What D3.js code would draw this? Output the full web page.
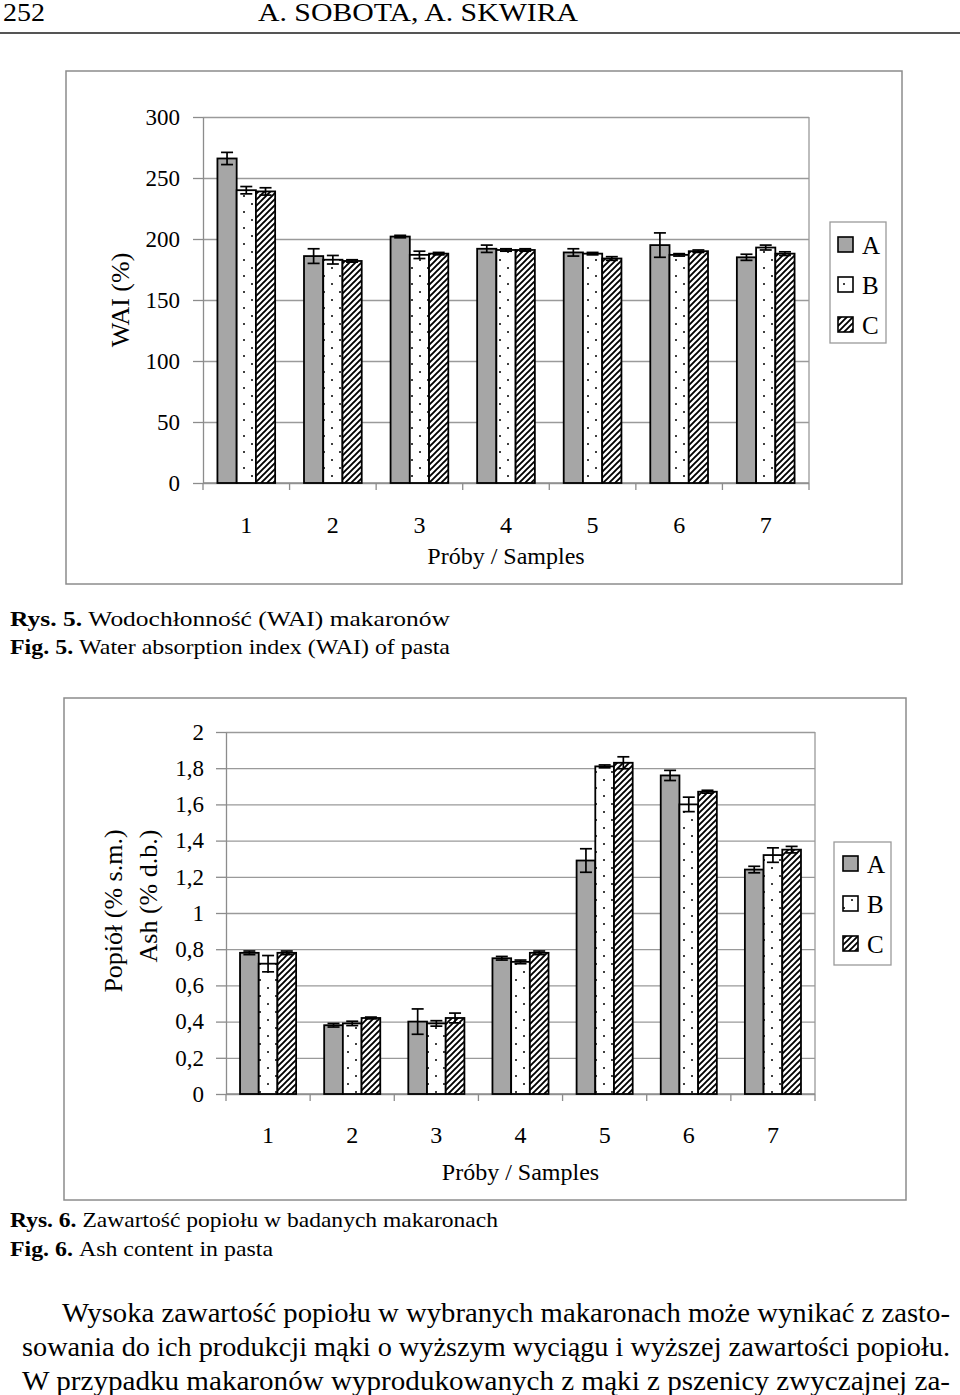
<!DOCTYPE html>
<html>
<head>
<meta charset="utf-8">
<script src="https://cdn.jsdelivr.net/npm/d3@7"></script>
<style>
html,body{margin:0;padding:0;background:#fff;}
svg{display:block;}
text{font-family:"Liberation Serif","Times New Roman",serif;fill:#000;}
</style>
</head>
<body>
<svg id="page" width="960" height="1395"></svg>
<script>
// ---------- DATA ----------
const samples = ["1","2","3","4","5","6","7"];
const series = ["A","B","C"];

// Fig. 5 – WAI (%)
const waiA = [266,186,202,192,189,195,185];
const waiB = [240,183,187,191,188,187,193];
const waiC = [239,182,188,191,184,190,188];
const waiErrA = [5,6,1,3,3,10,2.5];
const waiErrB = [3,3.5,3,1,1,1,2];
const waiErrC = [3,1,1,1,1.5,1,1.5];
const waiTicks = [0,50,100,150,200,250,300];

// Fig. 6 – Ash (% d.b.)
const ashA = [0.78,0.38,0.40,0.75,1.29,1.76,1.24];
const ashB = [0.72,0.39,0.39,0.73,1.81,1.60,1.32];
const ashC = [0.78,0.42,0.42,0.78,1.83,1.67,1.35];
const ashErrA = [0.01,0.01,0.07,0.01,0.065,0.028,0.018];
const ashErrB = [0.045,0.012,0.015,0.01,0.008,0.04,0.04];
const ashErrC = [0.01,0.005,0.027,0.01,0.033,0.008,0.018];
const ashTicks = [0,0.2,0.4,0.6,0.8,1,1.2,1.4,1.6,1.8,2];
const ashTickLabels = ["0","0,2","0,4","0,6","0,8","1","1,2","1,4","1,6","1,8","2"];

// ---------- PAGE ----------
const svg = d3.select("#page");
const FONT = 23;
const SERIF = '"Liberation Serif","Times New Roman",serif';

// patterns
const defs = svg.append("defs");
const dots = defs.append("pattern").attr("id","dots").attr("patternUnits","userSpaceOnUse")
  .attr("width",16).attr("height",16);
dots.append("rect").attr("width",16).attr("height",16).attr("fill","#fff");
dots.append("circle").attr("cx",4).attr("cy",4).attr("r",1).attr("fill","#000");
dots.append("circle").attr("cx",12).attr("cy",12).attr("r",1).attr("fill","#000");
const hatch = defs.append("pattern").attr("id","hatch").attr("patternUnits","userSpaceOnUse")
  .attr("width",6).attr("height",6);
hatch.append("rect").attr("width",6).attr("height",6).attr("fill","#fff");
hatch.append("path").attr("d","M0,6 L6,0 M-1.5,1.5 L1.5,-1.5 M4.5,7.5 L7.5,4.5")
  .attr("stroke","#000").attr("stroke-width",1.9);

const fills = {A:"#a6a6a6", B:"url(#dots)", C:"url(#hatch)"};

// header
svg.append("text").attr("x",3).attr("y",21).attr("font-size",25)
  .attr("textLength",42).attr("lengthAdjust","spacingAndGlyphs").text("252");
svg.append("text").attr("x",258).attr("y",21).attr("font-size",25)
  .attr("textLength",320).attr("lengthAdjust","spacingAndGlyphs").text("A. SOBOTA, A. SKWIRA");
svg.append("line").attr("x1",0).attr("x2",960).attr("y1",33).attr("y2",33)
  .attr("stroke","#555").attr("stroke-width",2);

function drawChart(cfg){
  const g = svg.append("g");
  // outer frame
  g.append("rect").attr("x",cfg.box[0]).attr("y",cfg.box[1])
    .attr("width",cfg.box[2]-cfg.box[0]).attr("height",cfg.box[3]-cfg.box[1])
    .attr("fill","none").attr("stroke","#8c8c8c").attr("stroke-width",1.5);

  const x = d3.scaleBand().domain(samples).range([cfg.px0,cfg.px1])
    .paddingInner(1/3).paddingOuter(1/6);
  const xs = d3.scaleBand().domain(series).range([0,x.bandwidth()]);
  const y = d3.scaleLinear().domain(cfg.domain).range([cfg.py1,cfg.py0]);

  // grid
  g.append("g").attr("transform",`translate(${cfg.px0},0)`)
    .call(d3.axisLeft(y).tickValues(cfg.ticks).tickSize(-(cfg.px1-cfg.px0)).tickFormat(""))
    .call(a=>a.select(".domain").remove())
    .call(a=>a.selectAll("line").attr("stroke","#9a9a9a").attr("stroke-width",1.3));
  // plot border right
  g.append("line").attr("x1",cfg.px1).attr("x2",cfg.px1).attr("y1",cfg.py0).attr("y2",cfg.py1)
    .attr("stroke","#9a9a9a").attr("stroke-width",1.3);

  // y axis
  g.append("g").attr("transform",`translate(${cfg.px0},0)`)
    .call(d3.axisLeft(y).tickValues(cfg.ticks).tickSize(10).tickSizeOuter(0).tickPadding(cfg.pad)
      .tickFormat((d,i)=>cfg.tickLabels[i]))
    .call(a=>a.selectAll("line,path").attr("stroke","#8c8c8c").attr("stroke-width",1.3))
    .call(a=>a.selectAll("text").attr("font-size",FONT).attr("font-family",SERIF).attr("fill","#000"));

  // x axis line + boundary ticks
  g.append("line").attr("x1",cfg.px0).attr("x2",cfg.px1).attr("y1",cfg.py1).attr("y2",cfg.py1)
    .attr("stroke","#8c8c8c").attr("stroke-width",1.3);
  g.selectAll(".xt").data(d3.range(samples.length+1)).join("line")
    .attr("x1",i=>cfg.px0+i*x.step()).attr("x2",i=>cfg.px0+i*x.step())
    .attr("y1",cfg.py1).attr("y2",cfg.py1+7).attr("stroke","#8c8c8c").attr("stroke-width",1.3);
  // x labels
  g.append("g").attr("transform",`translate(0,${cfg.py1})`)
    .call(d3.axisBottom(x).tickSize(0).tickPadding(cfg.xpad))
    .call(a=>a.select(".domain").remove())
    .call(a=>a.selectAll("text").attr("font-size",FONT+1).attr("font-family",SERIF).attr("fill","#000"));

  // bars
  const rows = [];
  samples.forEach((s,i)=>series.forEach(k=>{
    rows.push({s,k,v:cfg.vals[k][i],e:cfg.errs[k][i]});
  }));
  const bars = g.append("g");
  bars.selectAll("rect").data(rows).join("rect")
    .attr("x",d=>x(d.s)+xs(d.k)).attr("width",xs.bandwidth())
    .attr("y",d=>y(d.v)).attr("height",d=>y(0)-y(d.v))
    .attr("fill",d=>fills[d.k]).attr("stroke","#000").attr("stroke-width",1.8);
  const eb = g.append("g").attr("stroke","#000").attr("stroke-width",1.7);
  rows.forEach(d=>{
    const cx = x(d.s)+xs(d.k)+xs.bandwidth()/2;
    eb.append("line").attr("x1",cx).attr("x2",cx).attr("y1",y(d.v+d.e)).attr("y2",y(d.v-d.e));
    eb.append("line").attr("x1",cx-6).attr("x2",cx+6).attr("y1",y(d.v+d.e)).attr("y2",y(d.v+d.e));
    eb.append("line").attr("x1",cx-6).attr("x2",cx+6).attr("y1",y(d.v-d.e)).attr("y2",y(d.v-d.e));
  });

  // x title
  g.append("text").attr("x",(cfg.px0+cfg.px1)/2).attr("y",cfg.xtitleY).attr("text-anchor","middle")
    .attr("font-size",FONT+1).text("Próby / Samples");
  // y titles
  cfg.ytitles.forEach(t=>{
    g.append("text").attr("transform",`translate(${t.x},${t.y}) rotate(-90)`)
      .attr("text-anchor","middle").attr("font-size",26).text(t.text);
  });

  // legend
  const L = cfg.legend;
  g.append("rect").attr("x",L.x0).attr("y",L.y0).attr("width",L.x1-L.x0).attr("height",L.y1-L.y0)
    .attr("fill","#fff").attr("stroke","#9a9a9a").attr("stroke-width",1.3);
  series.forEach((k,i)=>{
    g.append("rect").attr("x",L.sx).attr("y",L.sy+i*40).attr("width",15).attr("height",15)
      .attr("fill",fills[k]).attr("stroke","#000").attr("stroke-width",1.6);
    g.append("text").attr("x",L.sx+24).attr("y",L.sy+i*40+17).attr("font-size",25).text(k);
  });
}

drawChart({
  box:[66,71,902,584], px0:203, px1:809, py0:117, py1:483,
  domain:[0,300], ticks:waiTicks, tickLabels:waiTicks.map(String), pad:13, xpad:33,
  vals:{A:waiA,B:waiB,C:waiC}, errs:{A:waiErrA,B:waiErrB,C:waiErrC},
  xtitleY:564,
  ytitles:[{x:129,y:300,text:"WAI (%)"}],
  legend:{x0:830,y0:222,x1:886,y1:343,sx:838,sy:237}
});

drawChart({
  box:[64,698,906,1200], px0:226, px1:815, py0:732, py1:1094,
  domain:[0,2], ticks:ashTicks, tickLabels:ashTickLabels, pad:12, xpad:32,
  vals:{A:ashA,B:ashB,C:ashC}, errs:{A:ashErrA,B:ashErrB,C:ashErrC},
  xtitleY:1180,
  ytitles:[{x:122,y:911,text:"Popiół (% s.m.)"},{x:157,y:896,text:"Ash (% d.b.)"}],
  legend:{x0:834,y0:842,x1:891,y1:965,sx:843,sy:856}
});

// captions
function caption(yb, bold, rest, len){
  const t = svg.append("text").attr("x",10).attr("y",yb).attr("font-size",22)
    .attr("textLength",len).attr("lengthAdjust","spacingAndGlyphs");
  t.append("tspan").attr("font-weight","bold").text(bold);
  t.append("tspan").text(rest);
}
caption(626,"Rys. 5. ","Wodochłonność (WAI) makaronów",440);
caption(654,"Fig. 5. ","Water absorption index (WAI) of pasta",440);
caption(1227,"Rys. 6. ","Zawartość popiołu w badanych makaronach",488);
caption(1256,"Fig. 6. ","Ash content in pasta",263);

// paragraph
const para = [
  {x:62, y:1322, text:"Wysoka zawartość popiołu w wybranych makaronach może wynikać z zasto-"},
  {x:22, y:1356, text:"sowania do ich produkcji mąki o wyższym wyciągu i wyższej zawartości popiołu."},
  {x:22, y:1390, text:"W przypadku makaronów wyprodukowanych z mąki z pszenicy zwyczajnej za-"}
];
para.forEach(p=>{
  svg.append("text").attr("x",p.x).attr("y",p.y).attr("font-size",27)
    .attr("textLength",950-p.x).attr("lengthAdjust","spacingAndGlyphs").text(p.text);
});
</script>
</body>
</html>
